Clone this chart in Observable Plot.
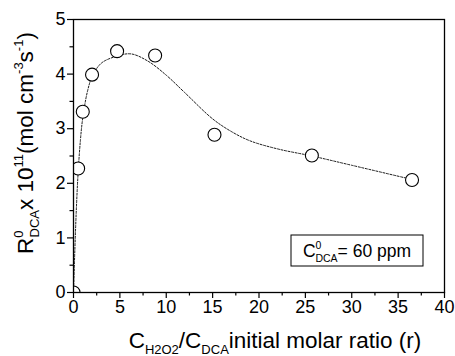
<!DOCTYPE html>
<html>
<head>
<meta charset="utf-8">
<script src="https://cdn.jsdelivr.net/npm/d3@7"></script>
<script src="https://cdn.jsdelivr.net/npm/@observablehq/plot@0.6"></script>
<style>
html,body{margin:0;padding:0;background:#fff;}
svg{font-family:"Liberation Sans",Arial,sans-serif;}
</style>
</head>
<body>
<div id="chart"></div>
<script>
const ratio = [0, 0.5, 1, 2, 4.7, 8.8, 15.2, 25.7, 36.5];
const rate  = [0, 2.27, 3.31, 3.99, 4.42, 4.34, 2.89, 2.51, 2.06];
const fitX = [0, 0.15, 0.3, 0.5, 0.75, 1, 1.5, 2, 3, 4.7, 6.2, 8, 10, 12, 15, 17, 19, 22, 25.7, 30, 36.5];
const fitY = [0, 0.8, 1.5, 2.2, 2.8, 3.2, 3.68, 3.95, 4.2, 4.33, 4.37, 4.24, 3.98, 3.66, 3.18, 2.95, 2.78, 2.63, 2.5, 2.33, 2.07];
const xMajor = [0, 5, 10, 15, 20, 25, 30, 35, 40];
const xMinor = [2.5, 7.5, 12.5, 17.5, 22.5, 27.5, 32.5, 37.5];
const yMajor = [0, 1, 2, 3, 4, 5];
const yMinor = [0.5, 1.5, 2.5, 3.5, 4.5];

const points = ratio.map((r, i) => ({r, v: rate[i]}));
const fit = fitX.map((r, i) => ({r, v: fitY[i]}));

const plot = Plot.plot({
  width: 455,
  height: 356,
  marginLeft: 73,
  marginRight: 11,
  marginTop: 19,
  marginBottom: 64,
  style: {fontFamily: "Liberation Sans, Arial, sans-serif", fontSize: "18px", color: "#000", background: "#fff"},
  x: {domain: [0, 40]},
  y: {domain: [0, 5]},
  marks: [
    Plot.line(fit, {x: "r", y: "v", curve: "catmull-rom", stroke: "#000", strokeWidth: 0.9, strokeDasharray: "2,1.6"}),
    Plot.dot(points, {x: "r", y: "v", r: 6.5, fill: "#fff", stroke: "#000", strokeWidth: 1.1, clip: true}),
    Plot.frame({stroke: "#000", strokeWidth: 1.3}),
    Plot.axisX(xMajor, {tickSize: 6, tickPadding: 2, tickFormat: d3.format("d"), label: null, fontSize: 18, strokeWidth: 1.2}),
    Plot.axisX(xMinor, {tickSize: 3.5, text: null, label: null, strokeWidth: 1.2}),
    Plot.axisY(yMajor, {tickSize: 6, tickPadding: 2, tickFormat: d3.format("d"), label: null, fontSize: 18, strokeWidth: 1.2}),
    Plot.axisY(yMinor, {tickSize: 3.5, text: null, label: null, strokeWidth: 1.2})
  ]
});
document.getElementById("chart").appendChild(plot);

const svg = d3.select(plot);
// x-axis title
const xt = svg.append("text").attr("x", 275).attr("y", 348).attr("text-anchor", "middle")
  .attr("font-size", 22.5).attr("fill", "#000");
xt.append("tspan").text("C");
xt.append("tspan").attr("font-size", 13).attr("dy", 6).text("H2O2");
xt.append("tspan").attr("dy", -6).text("/C");
xt.append("tspan").attr("font-size", 13).attr("dy", 6).text("DCA");
xt.append("tspan").attr("dy", -6).text("initial molar ratio (r)");

// y-axis title
const yt = svg.append("text").attr("transform", "translate(33,143) rotate(-90)").attr("text-anchor", "middle")
  .attr("font-size", 22.5).attr("fill", "#000");
yt.append("tspan").text("R");
yt.append("tspan").attr("font-size", 13).attr("dy", -10).text("0");
yt.append("tspan").attr("font-size", 13).attr("dx", -7).attr("dy", 16).text("DCA");
yt.append("tspan").attr("dy", -6).text("x 10");
yt.append("tspan").attr("font-size", 13).attr("dy", -10).text("11");
yt.append("tspan").attr("dy", 10).text("(mol cm");
yt.append("tspan").attr("font-size", 13).attr("dy", -10).text("-3");
yt.append("tspan").attr("dy", 10).text("s");
yt.append("tspan").attr("font-size", 13).attr("dy", -10).text("-1");
yt.append("tspan").attr("dy", 10).text(")");

// annotation box
svg.append("rect").attr("x", 291).attr("y", 235).attr("width", 132).attr("height", 31)
  .attr("fill", "#fff").attr("stroke", "#000").attr("stroke-width", 1);
const at = svg.append("text").attr("x", 357).attr("y", 257).attr("text-anchor", "middle")
  .attr("font-size", 17.5).attr("fill", "#000");
at.append("tspan").text("C");
at.append("tspan").attr("font-size", 10.5).attr("dy", -8).text("0");
at.append("tspan").attr("font-size", 10.5).attr("dx", -6).attr("dy", 13).text("DCA");
at.append("tspan").attr("dy", -5).text("= 60 ppm");
</script>
</body>
</html>
